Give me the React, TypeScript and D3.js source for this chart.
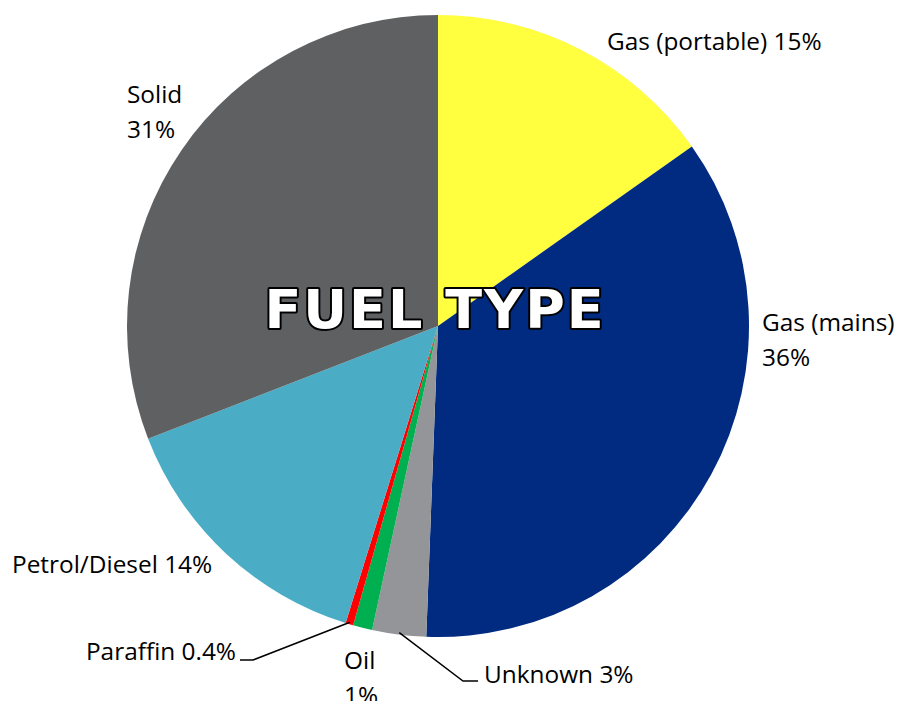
import React, { useEffect, useRef } from 'react';
import * as d3 from 'd3';

const categories = ['Gas (portable)', 'Gas (mains)', 'Unknown', 'Oil', 'Paraffin', 'Petrol/Diesel', 'Solid'];
const shares = [15.2, 35.4, 2.8, 1.0, 0.4, 14.3, 30.9];
const shareLabels = ['15%', '36%', '3%', '1%', '0.4%', '14%', '31%'];
const colors = ['#FFFF40', '#002B80', '#939598', '#00B050', '#FF0000', '#4BACC6', '#5F6062'];

export default function App() {
  const ref = useRef<SVGSVGElement>(null);

  useEffect(() => {
    const svg = d3.select(ref.current);
    svg.selectAll('*').remove();

    const width = 898;
    const height = 701;
    const cx = 438;
    const cy = 326;
    const radius = 311;
    const font = 'Open Sans, sans-serif';
    const fontSize = 24.4;

    const data = categories.map((c, i) => ({ name: c, value: shares[i], label: shareLabels[i], color: colors[i] }));
    const pie = d3.pie<any>().sort(null).value(d => d.value).startAngle(0).endAngle(2 * Math.PI);
    const arcs = pie(data);
    const arc = d3.arc<any>().innerRadius(0).outerRadius(radius);

    const g = svg.append('g').attr('transform', `translate(${cx},${cy})`);
    g.selectAll('path')
      .data(arcs)
      .enter()
      .append('path')
      .attr('d', arc)
      .attr('fill', d => d.data.color);

    // point on the rim, at a fraction along the slice
    const edge = (i: number, t: number, r: number) => {
      const a = arcs[i].startAngle + (arcs[i].endAngle - arcs[i].startAngle) * t;
      return [cx + r * Math.sin(a), cy - r * Math.cos(a)];
    };

    // leader lines
    const leaders = [
      { i: 4, end: [253, 660], tail: [240, 660] },
      { i: 2, end: [463, 681], tail: [478, 681] },
    ];
    leaders.forEach(l => {
      const p = edge(l.i, 0.5, radius - 2);
      svg.append('polyline')
        .attr('points', `${p[0]},${p[1]} ${l.end[0]},${l.end[1]} ${l.tail[0]},${l.tail[1]}`)
        .attr('fill', 'none')
        .attr('stroke', '#000')
        .attr('stroke-width', 1.5);
    });

    // labels
    const labels = [
      { x: 607, y: 50, lines: [`${categories[0]} ${shareLabels[0]}`], anchor: 'start' },
      { x: 762, y: 331, lines: [categories[1], shareLabels[1]], anchor: 'start' },
      { x: 484, y: 683, lines: [`${categories[2]} ${shareLabels[2]}`], anchor: 'start' },
      { x: 344, y: 669, lines: [categories[3], shareLabels[3]], anchor: 'start' },
      { x: 236, y: 660, lines: [`${categories[4]} ${shareLabels[4]}`], anchor: 'end' },
      { x: 12, y: 573, lines: [`${categories[5]} ${shareLabels[5]}`], anchor: 'start' },
      { x: 127, y: 103, lines: [categories[6], shareLabels[6]], anchor: 'start' },
    ];
    labels.forEach(l => {
      const t = svg.append('text')
        .attr('x', l.x)
        .attr('y', l.y)
        .attr('font-family', font)
        .attr('font-size', fontSize)
        .attr('text-anchor', l.anchor)
        .attr('fill', '#000');
      l.lines.forEach((s, k) => {
        t.append('tspan').attr('x', l.x).attr('dy', k === 0 ? 0 : 35).text(s);
      });
    });

    // title
    svg.append('text')
      .attr('x', 435)
      .attr('y', 328)
      .attr('text-anchor', 'middle')
      .attr('font-family', 'DejaVu Sans, sans-serif')
      .attr('font-weight', 'bold')
      .attr('font-size', 54)
      .attr('letter-spacing', 2)
      .attr('fill', '#fff')
      .attr('stroke', '#000')
      .attr('stroke-width', 4)
      .attr('paint-order', 'stroke')
      .attr('stroke-linejoin', 'round')
      .text('FUEL TYPE');

    svg.attr('width', width).attr('height', height);
  }, []);

  return (
    <div style={{ position: 'absolute', left: 0, top: 0, background: '#fff' }}>
      <svg ref={ref} width={898} height={701} style={{ display: 'block' }} />
    </div>
  );
}
